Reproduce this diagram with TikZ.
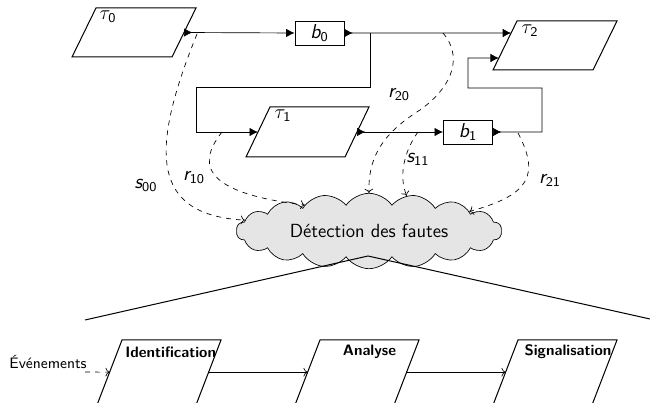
\documentclass[tikz,border=0pt]{standalone}
\usepackage{amsmath}
\usetikzlibrary{shapes.symbols,arrows.meta,calc}
\newcommand\sv[2]{$\textsl{#1}_{\textsf{#2}}$}
\newcommand\tv[1]{$\tau_{\textsf{#1}}$}
\begin{document}
\begin{tikzpicture}[x=0.0209cm,y=-0.0209cm, font=\sffamily,
  shp/.style={draw, semithick},
  buf/.style={draw, minimum width=1.03cm, minimum height=0.5cm, inner sep=0pt, font=\sffamily\large},
  flow/.style={{Latex[reversed,length=5pt,width=5pt]}-{Latex[length=5pt,width=5pt]}},
  flowin/.style={-{Latex[length=5pt,width=5pt]}},
  dflow/.style={dashed, ->},
  lbl/.style={inner sep=1pt, font=\sffamily\large},
  ttl/.style={font=\sffamily\small\bfseries, inner sep=0pt}]
\useasboundingbox (0,0) rectangle (650,403);
\clip (0,0) rectangle (650,403);

% top tasks
\draw[shp] (96,8) coordinate (t0tl) -- (196,8) coordinate (t0tr) -- (172,57) coordinate (t0br) -- (72,57) coordinate (t0bl) -- cycle;
\draw[shp] (270,107) coordinate (t1tl) -- (369,107) coordinate (t1tr) -- (345,157) coordinate (t1br) -- (246,157) coordinate (t1bl) -- cycle;
\draw[shp] (517,21) coordinate (t2tl) -- (617,21) coordinate (t2tr) -- (593,70) coordinate (t2br) -- (493,70) coordinate (t2bl) -- cycle;
\coordinate (t0e) at ($(t0tr)!0.5!(t0br)$);
\coordinate (t1w) at ($(t1tl)!0.5!(t1bl)$);
\coordinate (t1e) at ($(t1tr)!0.5!(t1br)$);
\coordinate (t2a) at ($(t2tl)!0.245!(t2bl)$);
\coordinate (t2b) at ($(t2tl)!0.755!(t2bl)$);
\node[lbl] (lt0) at (108,17) {\tv{0}};
\node[lbl] (lt1) at (283,116) {\tv{1}};
\node[lbl] (lt2) at (530,31) {\tv{2}};

\node[buf] (b0) at (319.5,33) {\sv{b}{0}};
\node[buf] (b1) at (468,132) {\sv{b}{1}};

% connectors
\draw[flow] (t0e) -- (b0.west);
\draw[flow] (b0.east) -- (t2a);
\coordinate (br0) at (370,33);
\draw[flowin] (br0) -- (370,87) -- (196,87) -- (196,132) -- (t1w);
\draw[flow] (t1e) -- (b1.west);
\draw[flow] (b1.east) -- (542,132) -- (542,88) -- (468,88) -- (468,58) -- (t2b);

% cloud
\node[cloud, draw, fill=gray!20, cloud puffs=18, cloud puff arc=110, aspect=4,
  minimum width=5.55cm, minimum height=1.5cm, inner sep=0pt,
  font=\sffamily\fontsize{11.3}{13}\selectfont] (cl) at (369,231) {Détection des fautes};

% dashed signals
\coordinate (d0) at (197,34);
\coordinate (d1) at (222,132);
\coordinate (d2) at (443,33);
\coordinate (d3) at (418,132);
\coordinate (d4) at (518,133);
\draw[dflow] (d0) .. controls (150,150) and (150,215) .. (cl.175);
\draw[dflow] (d1) .. controls (200,160) and (195,192) .. (cl.158);
\draw[dflow] (d2) .. controls (462,55) and (455,85) .. (420,110) .. controls (380,135) and (368,160) .. (cl.90);
\draw[dflow] (d3) .. controls (405,150) and (398,175) .. (cl.43);
\draw[dflow] (d4) .. controls (540,175) and (530,195) .. (cl.11);
\node[lbl] (ls00) at (146,186) {\sv{s}{00}};
\node[lbl] (lr10) at (194,178) {\sv{r}{10}};
\node[lbl] (lr20) at (399,95) {\sv{r}{20}};
\node[lbl] (ls11) at (418,159) {\sv{s}{11}};
\node[lbl] (lr21) at (550,180) {\sv{r}{21}};

% zoom lines
\coordinate (zl) at (85,320);
\coordinate (ap) at (368,256);
\coordinate (zr) at (650,319);
\draw[semithick] (zl) -- (ap) -- (zr);

% bottom stages
\draw[shp] (122,340) coordinate (idtl) -- (221,340) coordinate (idtr) -- (196,405) coordinate (idbr) -- (97,405) coordinate (idbl) -- cycle;
\draw[shp] (320,340) coordinate (antl) -- (419,340) coordinate (antr) -- (394,405) coordinate (anbr) -- (295,405) coordinate (anbl) -- cycle;
\draw[shp] (518,340) coordinate (sgtl) -- (617,340) coordinate (sgtr) -- (592,405) coordinate (sgbr) -- (493,405) coordinate (sgbl) -- cycle;
\coordinate (idw) at ($(idtl)!0.495!(idbl)$);
\coordinate (ide) at ($(idtr)!0.495!(idbr)$);
\coordinate (anw) at ($(antl)!0.495!(anbl)$);
\coordinate (ane) at ($(antr)!0.495!(anbr)$);
\coordinate (sgw) at ($(sgtl)!0.495!(sgbl)$);
\node[ttl, anchor=west] (tid) at (125,352) {Identification};
\node[ttl] (tan) at (369.5,352) {Analyse};
\node[ttl] (tsg) at (568,352) {Signalisation};
\draw[->] (ide) -- (anw);
\draw[->] (ane) -- (sgw);
\node[font=\sffamily\small, anchor=east, inner sep=0pt] (ev) at (87,362) {Événements};
\coordinate (ev0) at (85,372);
\draw[dashed,->] (ev0) -- (idw);
\end{tikzpicture}
\end{document}
